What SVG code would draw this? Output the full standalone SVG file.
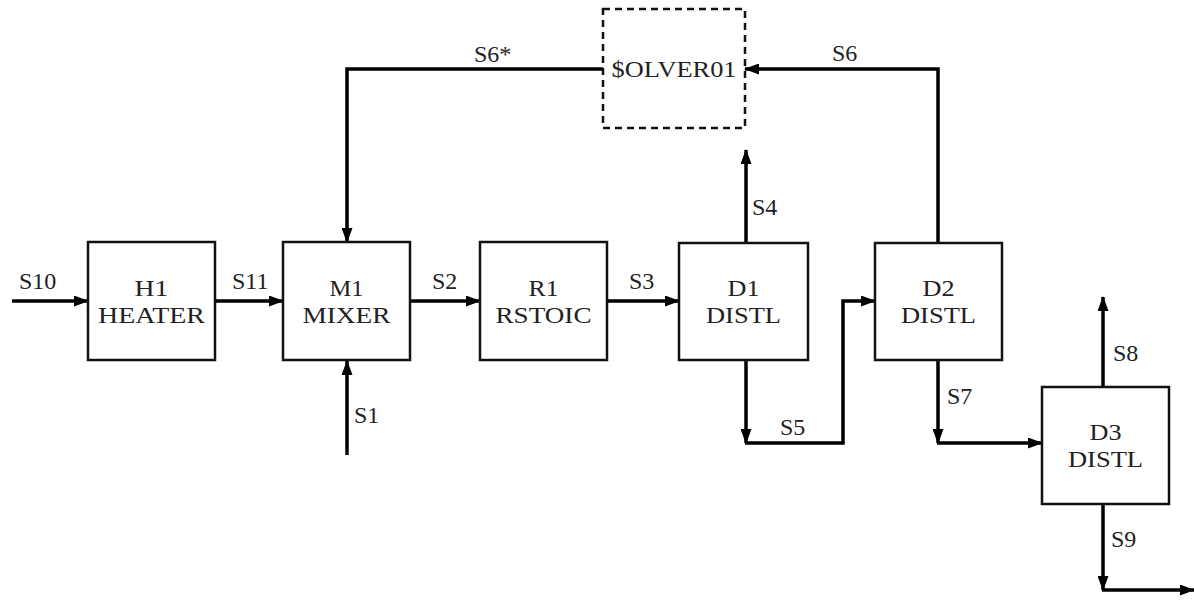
<svg xmlns="http://www.w3.org/2000/svg" width="1194" height="614" viewBox="0 0 1194 614">
<style>
.box{fill:#fff;stroke:#111;stroke-width:2.5}
.solver{fill:none;stroke:#111;stroke-width:2.5;stroke-dasharray:7 5}
text{font-family:'Liberation Serif','DejaVu Serif',serif;font-size:24px;fill:#222}
.t{text-anchor:middle}
.c{fill:none;stroke:#000;stroke-width:3.5}
</style>
<defs>
<marker id="ah" markerUnits="userSpaceOnUse" markerWidth="15" markerHeight="11" refX="14" refY="5.5" orient="auto">
<path d="M0,0 L15,5.5 L0,11 z" fill="#000"/>
</marker>
</defs>
<rect width="1194" height="614" fill="#fff"/>

<g id="connectors">
<path class="c" d="M12,301 H88" marker-end="url(#ah)"/>
<path class="c" d="M215,301 H283" marker-end="url(#ah)"/>
<path class="c" d="M410,301 H480" marker-end="url(#ah)"/>
<path class="c" d="M607,301 H679" marker-end="url(#ah)"/>
<path class="c" d="M347,455 V361" marker-end="url(#ah)"/>
<path class="c" d="M603,69 H347 V242" marker-end="url(#ah)"/>
<path class="c" d="M938,243 V69 H745" marker-end="url(#ah)"/>
<path class="c" d="M746,243 V150" marker-end="url(#ah)"/>
<path class="c" d="M746,360 V443" marker-end="url(#ah)"/>
<path class="c" d="M745,443 H843 V301 H875" marker-end="url(#ah)"/>
<path class="c" d="M938,360 V443" marker-end="url(#ah)"/>
<path class="c" d="M937,443 H1042" marker-end="url(#ah)"/>
<path class="c" d="M1103,387 V297" marker-end="url(#ah)"/>
<path class="c" d="M1103,504 V590" marker-end="url(#ah)"/>
<path class="c" d="M1102,590 H1194" marker-end="url(#ah)"/>
<text font-family="Liberation Serif, serif" x="19" y="289">S10</text>
<text font-family="Liberation Serif, serif" x="232" y="289">S11</text>
<text font-family="Liberation Serif, serif" x="432" y="289">S2</text>
<text font-family="Liberation Serif, serif" x="629" y="289">S3</text>
<text font-family="Liberation Serif, serif" x="354" y="423">S1</text>
<text font-family="Liberation Serif, serif" x="474" y="62">S6*</text>
<text font-family="Liberation Serif, serif" x="832" y="61">S6</text>
<text font-family="Liberation Serif, serif" x="752" y="215">S4</text>
<text font-family="Liberation Serif, serif" x="780" y="435">S5</text>
<text font-family="Liberation Serif, serif" x="947" y="404">S7</text>
<text font-family="Liberation Serif, serif" x="1113" y="361">S8</text>
<text font-family="Liberation Serif, serif" x="1111" y="547">S9</text>
</g>

<g id="SOLVER01">
<rect class="solver" x="603" y="9" width="142" height="119"/>
<text class="t" x="674" y="77" textLength="125" lengthAdjust="spacingAndGlyphs">$OLVER01</text>
</g>
<g id="H1">
<rect class="box" x="88" y="242" width="127" height="118"/>
<text class="t" x="151.5" y="296" textLength="34" lengthAdjust="spacingAndGlyphs">H1</text>
<text class="t" x="151.5" y="323" textLength="107" lengthAdjust="spacingAndGlyphs">HEATER</text>
</g>
<g id="M1">
<rect class="box" x="283" y="242" width="127" height="118"/>
<text class="t" x="346.5" y="296" textLength="34" lengthAdjust="spacingAndGlyphs">M1</text>
<text class="t" x="346.5" y="323" textLength="88" lengthAdjust="spacingAndGlyphs">MIXER</text>
</g>
<g id="R1">
<rect class="box" x="480" y="242" width="127" height="118"/>
<text class="t" x="543.5" y="296" textLength="30" lengthAdjust="spacingAndGlyphs">R1</text>
<text class="t" x="543.5" y="323" textLength="96" lengthAdjust="spacingAndGlyphs">RSTOIC</text>
</g>
<g id="D1">
<rect class="box" x="679" y="243" width="129" height="117"/>
<text class="t" x="743.5" y="296" textLength="32" lengthAdjust="spacingAndGlyphs">D1</text>
<text class="t" x="743.5" y="323" textLength="75" lengthAdjust="spacingAndGlyphs">DISTL</text>
</g>
<g id="D2">
<rect class="box" x="875" y="243" width="127" height="117"/>
<text class="t" x="938.5" y="296" textLength="32" lengthAdjust="spacingAndGlyphs">D2</text>
<text class="t" x="938.5" y="323" textLength="75" lengthAdjust="spacingAndGlyphs">DISTL</text>
</g>
<g id="D3">
<rect class="box" x="1042" y="387" width="127" height="117"/>
<text class="t" x="1105.5" y="440" textLength="32" lengthAdjust="spacingAndGlyphs">D3</text>
<text class="t" x="1105.5" y="467" textLength="75" lengthAdjust="spacingAndGlyphs">DISTL</text>
</g>
</svg>
